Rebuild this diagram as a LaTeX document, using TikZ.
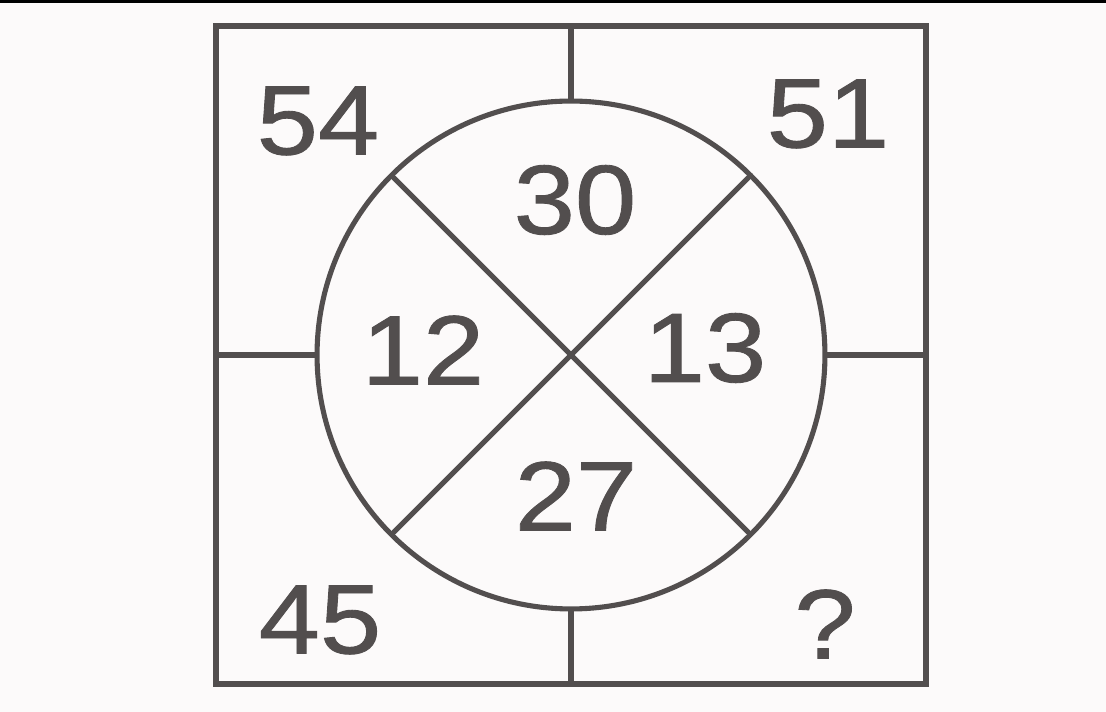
\documentclass[tikz,border=0pt]{standalone}
\usepackage{fontspec}
\setmainfont{Liberation Sans}[FakeBold=0.9, FakeStretch=1.12]
\definecolor{ink}{RGB}{82,78,78}
\definecolor{paper}{RGB}{252,250,250}

\begin{document}
\begin{tikzpicture}[
        x=0.02cm, y=-0.02cm,
        frame/.style={
            draw=ink,
            line width=3.4pt,
            minimum width=14.2cm,
            minimum height=13.16cm,
            inner sep=0pt,
            outer sep=0pt
        },
        ring/.style={
            circle,
            draw=ink,
            line width=2.9pt,
            minimum size=10.16cm,
            inner sep=0pt,
            outer sep=0pt
        },
        divider/.style={
            draw=ink,
            line width=2.9pt
        },
        num/.style={
            text=ink,
            font=\fontsize{56}{56}\selectfont,
            inner sep=0pt
        }
    ]

    % ---------------------------------------------------------
    % Page and scan edge
    % ---------------------------------------------------------
    \useasboundingbox (0,0) rectangle (1106,712);
    \fill[paper] (0,0) rectangle (1106,712);
    \fill[black] (0,0) rectangle (1106,3);

    % ---------------------------------------------------------
    % Square and circle
    % ---------------------------------------------------------
    \node[frame] (box) at (571,355) {};
    \node[ring] (ring) at (571,355) {};

    % Spokes from the square to the circle
    \draw[divider] (box.north) -- (ring.north);
    \draw[divider] (box.south) -- (ring.south);
    \draw[divider] (box.west) -- (ring.west);
    \draw[divider] (box.east) -- (ring.east);

    % Diagonals across the circle
    \draw[divider] (ring.135) -- (ring.-45);
    \draw[divider] (ring.45) -- (ring.-135);

    % ---------------------------------------------------------
    % Numbers
    % ---------------------------------------------------------
    \node[num] (n54) at (318,121) {54};
    \node[num] (n51) at (828,114) {51};
    \node[num] (n30) at (575,200) {30};
    \node[num] (n12) at (423,350) {12};
    \node[num] (n13) at (705,348) {13};
    \node[num] (n27) at (576,496) {27};
    \node[num] (n45) at (320,620) {45};
    \node[num] (nq) at (825,624) {?};

\end{tikzpicture}
\end{document}
